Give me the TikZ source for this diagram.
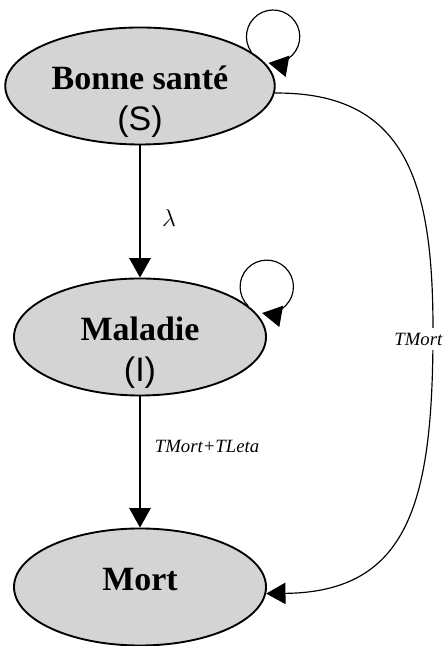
\documentclass[tikz,border=0pt]{standalone}
\usepackage{fontspec}
\setmainfont{Liberation Serif}
\setsansfont{Liberation Sans}
\usetikzlibrary{arrows.meta,shapes.geometric}
\def\etiq#1#2{\raisebox{#1}[0pt][0pt]{\begin{tabular}{c}#2\end{tabular}}}
\tikzset{
	etat/.style={ellipse, draw, line width=1.6pt, fill=black!17, minimum width=7.56cm, minimum height=3.51cm, inner sep=0pt, font=\fontsize{29}{35}\selectfont\bfseries},
	fleche/.style={line width=1pt, -{Triangle[length=5.8mm, width=6.4mm]}},
	taux/.style={font=\fontsize{16}{19}\selectfont\itshape, inner sep=2pt}
}

\begin{document}
\begin{tikzpicture}
			%%%%% START %%%%%
			\useasboundingbox (0, 0) rectangle (13.29, 19.38);
			
			\node[etat] (bs) at (4.2, 16.8) {\etiq{-0.7cm}{Bonne santé\\ {\sffamily\mdseries (S)}}};
			\node[etat] (ml) at (4.2, 9.27) {\etiq{-0.7cm}{Maladie\\ {\sffamily\mdseries (I)}}};
			\node[etat] (mt) at (4.2, 1.77) {\etiq{-0.07cm}{Mort}};
			
			\draw[fleche] (bs) -- (ml);
			\node[taux, font=\fontsize{21}{24}\selectfont] (lam) at (5.07, 12.84) {$\lambda$};
			
			\draw[fleche] (ml) -- (mt);
			\node[taux] (tmtl) at (6.21, 6.0) {TMort+TLeta};
			
			\draw[fleche] (bs.17) arc[start angle=215, end angle=-100, radius=0.8];
			\draw[fleche] (ml.16) arc[start angle=226, end angle=-100, radius=0.8];
			
			\coordinate (mi) at (12.99, 9.48);
			\draw[fleche] (bs.-3) .. controls (12.15, 16.62) and (12.99, 13.98) .. (mi)
				.. controls (12.99, 4.38) and (12.3, 1.62) .. (mt.-3);
			\node[taux, fill=white, inner sep=4pt] (tm) at (12.55, 9.21) {TMort};
			
			%%%%% END %%%%%
\end{tikzpicture}
\end{document}
